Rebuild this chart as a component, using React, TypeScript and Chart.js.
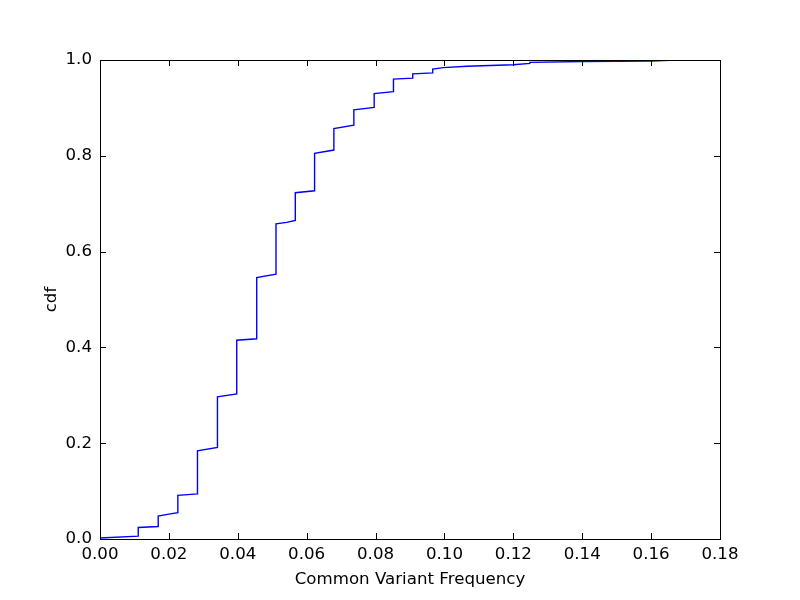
import React, { useEffect, useRef } from "react";
import { Chart, registerables } from "chart.js";

Chart.register(...registerables);

const freqX: number[] = [
  0, 0.0111, 0.0111, 0.0169, 0.0169, 0.02, 0.0226, 0.0226, 0.0283, 0.0283,
  0.0341, 0.0341, 0.0397, 0.0397, 0.0455, 0.0455, 0.0511, 0.0511, 0.0542, 0.0567,
  0.0567, 0.0623, 0.0623, 0.0679, 0.0679, 0.0737, 0.0737, 0.0796, 0.0796, 0.0852,
  0.0852, 0.0908, 0.0908, 0.0966, 0.0966, 0.0997, 0.1065, 0.12, 0.1248, 0.1248,
  0.1403, 0.16, 0.1655,
];
const cdfY: number[] = [
  0.002, 0.006, 0.024, 0.026, 0.048, 0.052, 0.055, 0.091, 0.094, 0.184,
  0.191, 0.297, 0.303, 0.415, 0.418, 0.546, 0.553, 0.658, 0.661, 0.665,
  0.723, 0.727, 0.805, 0.812, 0.857, 0.864, 0.896, 0.901, 0.93, 0.934,
  0.96, 0.962, 0.971, 0.973, 0.981, 0.984, 0.987, 0.99, 0.993, 0.995,
  0.997, 0.998, 0.9995,
];
const xTicks: number[] = [0, 0.02, 0.04, 0.06, 0.08, 0.1, 0.12, 0.14, 0.16, 0.18];
const yTicks: number[] = [0, 0.2, 0.4, 0.6, 0.8, 1.0];

const FONT = "DejaVu Sans";
const FS = 16.67;

const framePlugin = {
  id: "mplFrame",
  afterDraw(chart: any) {
    const { ctx, chartArea } = chart;
    const { left, right, top, bottom } = chartArea;
    const xs = chart.scales.x;
    const ys = chart.scales.y;
    ctx.save();
    ctx.strokeStyle = "#000";
    ctx.lineWidth = 1;
    const L = 6;
    ctx.beginPath();
    xTicks.forEach((v) => {
      const px = Math.round(xs.getPixelForValue(v)) + 0.5;
      ctx.moveTo(px, bottom);
      ctx.lineTo(px, bottom - L);
      ctx.moveTo(px, top);
      ctx.lineTo(px, top + L);
    });
    yTicks.forEach((v) => {
      const py = Math.round(ys.getPixelForValue(v)) + 0.5;
      ctx.moveTo(left, py);
      ctx.lineTo(left + L, py);
      ctx.moveTo(right, py);
      ctx.lineTo(right - L, py);
    });
    ctx.stroke();
    ctx.strokeRect(Math.round(left) + 0.5, Math.round(top) + 0.5, Math.round(right - left), Math.round(bottom - top));
    ctx.restore();
  },
};

export default function App() {
  const ref = useRef<HTMLCanvasElement | null>(null);
  useEffect(() => {
    if (!ref.current) return;
    const points = freqX.map((x, i) => ({ x, y: cdfY[i] }));
    const chart = new Chart(ref.current, {
      type: "line",
      data: {
        datasets: [
          {
            label: "cdf",
            data: points,
            borderColor: "#0000ff",
            borderWidth: 1.4,
            pointRadius: 0,
            fill: false,
            tension: 0,
          },
        ],
      },
      options: {
        animation: false,
        responsive: false,
        devicePixelRatio: 1,
        layout: { padding: { top: 60, right: 80, left: 0, bottom: 0 } },
        plugins: { legend: { display: false }, tooltip: { enabled: false } },
        scales: {
          x: {
            type: "linear",
            min: 0,
            max: 0.18,
            afterFit: (s: any) => { s.height = 61; },
            afterBuildTicks: (s: any) => { s.ticks = xTicks.map((v) => ({ value: v })); },
            grid: { display: false, drawTicks: false },
            border: { display: false },
            ticks: {
              color: "#000",
              padding: 6,
              font: { family: FONT, size: FS },
              callback: (v: any) => Number(v).toFixed(2),
            },
            title: {
              display: true,
              text: "Common Variant Frequency",
              color: "#000",
              font: { family: FONT, size: FS },
              padding: { top: 0, bottom: 10 },
            },
          },
          y: {
            type: "linear",
            min: 0,
            max: 1,
            afterFit: (s: any) => { s.width = 100; },
            afterBuildTicks: (s: any) => { s.ticks = yTicks.map((v) => ({ value: v })); },
            grid: { display: false, drawTicks: false },
            border: { display: false },
            ticks: {
              color: "#000",
              padding: 8,
              font: { family: FONT, size: FS },
              callback: (v: any) => Number(v).toFixed(1),
            },
            title: {
              display: true,
              text: "cdf",
              color: "#000",
              font: { family: FONT, size: FS },
              padding: { top: 42, bottom: 0 },
            },
          },
        },
      },
      plugins: [framePlugin],
    });
    return () => chart.destroy();
  }, []);
  return (
    <div style={{ position: "absolute", left: 0, top: 0, width: 800, height: 600, background: "#fff" }}>
      <canvas ref={ref} width={800} height={600} style={{ width: 800, height: 600 }} />
    </div>
  );
}
